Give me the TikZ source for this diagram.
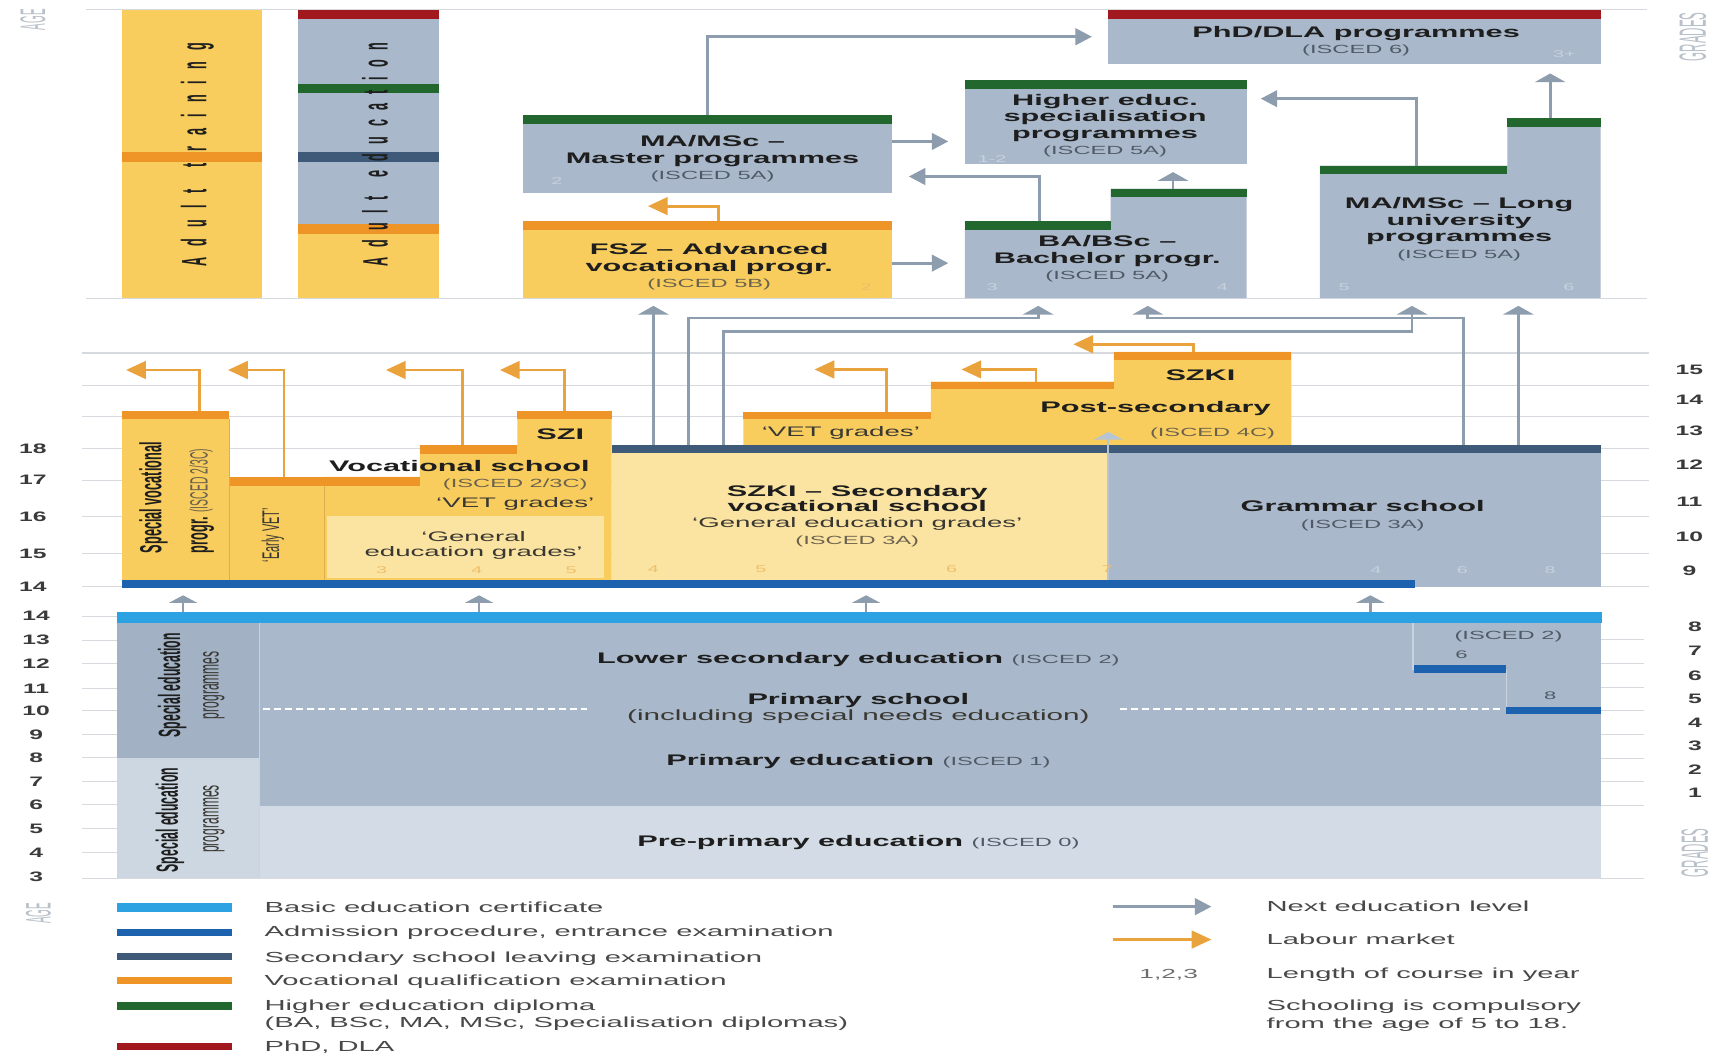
\documentclass[tikz,border=0pt]{standalone}
\usepackage{fontspec}
\setmainfont{Liberation Sans}
\usetikzlibrary{arrows.meta}
\definecolor{ylw}{HTML}{F8CD5E}
\definecolor{ylwlt}{HTML}{FBE4A2}
\definecolor{org}{HTML}{EF9427}
\definecolor{gry}{HTML}{A9B8CA}
\definecolor{grylt}{HTML}{D3DCE6}
\definecolor{gryse}{HTML}{A2B1C4}
\definecolor{gryse2}{HTML}{CDD7E2}
\definecolor{grn}{HTML}{22682E}
\definecolor{rd}{HTML}{A2181F}
\definecolor{slate}{HTML}{3F5A78}
\definecolor{adm}{HTML}{1D62AE}
\definecolor{basic}{HTML}{2CA2E2}
\definecolor{arw}{HTML}{8D9DAE}
\definecolor{arwlt}{HTML}{B7C4D3}
\definecolor{oarw}{HTML}{E9A23C}
\definecolor{grid}{HTML}{D6DADF}
\definecolor{txt}{HTML}{1E1E1E}
\definecolor{isc}{HTML}{505A66}
\definecolor{iscy}{HTML}{6B624E}
\definecolor{qtc}{HTML}{3A3832}
\definecolor{faint}{HTML}{C9D2DD}
\definecolor{fainty}{HTML}{EDBF6A}
\definecolor{numc}{HTML}{3A3A3A}
\definecolor{legc}{HTML}{484848}
\definecolor{axl}{HTML}{B8C0C9}
\definecolor{sepc}{HTML}{DDAE4E}
\definecolor{vline}{HTML}{C9D3DF}
\newcommand{\iscf}{\fontsize{10.8}{11}\selectfont\mdseries\color{isc}}
\begin{document}
\begin{tikzpicture}[x=1pt,y=-1pt,
 sx/.style={xscale=2.0, transform shape, inner sep=0pt, anchor=base},
 ttl/.style={sx, font=\fontsize{14}{15}\selectfont\bfseries, text=txt},
 isct/.style={sx, font=\fontsize{10.8}{11}\selectfont, text=isc},
 iscyl/.style={sx, font=\fontsize{10.8}{11}\selectfont, text=iscy},
 qt/.style={sx, font=\fontsize{12.6}{13}\selectfont, text=qtc},
 sml/.style={sx, font=\fontsize{9}{9}\selectfont, text=faint},
 num/.style={xscale=1.8, transform shape, inner sep=0pt, anchor=center, font=\fontsize{12.5}{12}\selectfont\bfseries, text=numc},
 leg/.style={sx, anchor=base west, font=\fontsize{13.3}{14}\selectfont, text=legc},
 vtxt/.style={xscale=#1, rotate=90, transform shape, inner sep=0pt, anchor=center},
 gridl/.style={draw=grid, line width=1pt},
 garr/.style={draw=arw, line width=2.6pt},
 gh/.style={garr, -{Triangle[length=15pt,width=15pt]}},
 gv/.style={garr, -{Triangle[length=8pt,width=28pt]}},
 oh/.style={draw=oarw, line width=2.6pt, -{Triangle[length=18pt,width=16pt]}},
]
\fill[white] (0,0) rectangle (1568,962);
\useasboundingbox (0,0) rectangle (1568,962);

% ---------- grid lines
\draw[gridl] (78,9) -- (1502,9);
\draw[gridl] (78,272) -- (1502,272);
\foreach \yy in {322,352,380,409,438,471,505,535} {\draw[gridl] (75,\yy) -- (1504,\yy);}
\foreach \yy in {562,584,605,628,648,670,691,713,734,756,778} {\draw[gridl] (75,\yy) -- (107,\yy);}
\foreach \yy in {583,605,627,648,670,692,713,735} {\draw[gridl] (1460,\yy) -- (1500,\yy);}
\draw[gridl] (75,801) -- (1500,801);

% ---------- top section boxes
\fill[ylw] (111,9) rectangle (239,272);
\fill[org] (111,139) rectangle (239,148);
\fill[gry] (272,9) rectangle (400,208);
\fill[ylw] (272,208) rectangle (400,272);
\fill[rd] (272,9) rectangle (400,17);
\fill[grn] (272,77) rectangle (400,85);
\fill[slate] (272,139) rectangle (400,148);
\fill[org] (272,204) rectangle (400,213);

\fill[gry] (1011,9) rectangle (1460,58);
\fill[rd] (1011,9) rectangle (1460,17);
\fill[gry] (477,105) rectangle (814,176);
\fill[grn] (477,105) rectangle (814,113);
\fill[gry] (880,73) rectangle (1137,150);
\fill[grn] (880,73) rectangle (1137,81);
\fill[ylw] (477,202) rectangle (814,272);
\fill[org] (477,202) rectangle (814,210);
\fill[gry] (880,202) -- (1013,202) -- (1013,172) -- (1137,172) -- (1137,272) -- (880,272) -- cycle;
\fill[grn] (880,202) rectangle (1013,210);
\fill[grn] (1013,172) rectangle (1137,180);
\fill[gry] (1204,151) -- (1375,151) -- (1375,108) -- (1460,108) -- (1460,272) -- (1204,272) -- cycle;
\fill[grn] (1204,151) rectangle (1375,159);
\fill[grn] (1375,108) rectangle (1460,116);

% ---------- middle section boxes
\fill[ylw] (111,375) rectangle (209,529);
\fill[org] (111,375) rectangle (209,382);
\fill[ylw] (210,435) rectangle (296,529);
\fill[ylw] (296,435) -- (383,435) -- (383,406) -- (472,406) -- (472,375) -- (558,375) -- (558,529) -- (296,529) -- cycle;
\fill[ylwlt] (298,471) rectangle (551,527);
\fill[org] (210,435) rectangle (383,443);
\fill[org] (383,406) rectangle (472,414);
\fill[org] (472,375) rectangle (558,382);
\draw[sepc, line width=1pt] (209.5,382) -- (209.5,529);
\draw[sepc, line width=1pt] (296,443) -- (296,529);
\fill[ylwlt] (558,413) rectangle (1011,529);
\fill[ylw] (678,406) -- (678,376) -- (849,376) -- (849,348) -- (1016,348) -- (1016,321) -- (1178,321) -- (1178,406) -- cycle;
\fill[org] (678,376) rectangle (849,382);
\fill[org] (849,348) rectangle (1016,355);
\fill[org] (1016,321) rectangle (1178,328);
\fill[gry] (1011,413) rectangle (1460,535);
\fill[slate] (558,406) rectangle (1460,413);
\fill[adm] (111,529) rectangle (1291,536);

% ---------- bottom section boxes
\fill[gryse] (107,568) rectangle (237,691);
\fill[gryse2] (107,691) rectangle (237,801);
\fill[gry] (237,568) rectangle (1460,735);
\fill[grylt] (237,735) rectangle (1460,801);
\fill[basic] (107,558) rectangle (1461,568);
\draw[vline, line width=1.2pt] (237,568) -- (237,801);
\draw[white, line width=1.5pt, dash pattern=on 6pt off 4pt] (240,647) -- (535,647);
\draw[white, line width=1.5pt, dash pattern=on 6pt off 4pt] (1022,647) -- (1372,647);
\draw[vline, line width=1.5pt] (1289,568) -- (1289,611);
\draw[vline, line width=1.5pt] (1374,611) -- (1374,648);
\fill[adm] (1290,607) rectangle (1374,614);
\fill[adm] (1374,645) rectangle (1460,651);

% ---------- connector end points
\coordinate (maT) at (645,105);
\coordinate (phdL) at (996,33.5);
\coordinate (maR) at (814,129);
\coordinate (hiL) at (865,129);
\coordinate (baLT) at (948,202);
\coordinate (maRi) at (829,161);
\coordinate (fszR) at (814,240);
\coordinate (baL) at (865,240);
\coordinate (baRT) at (1070,172);
\coordinate (hiB) at (1070,157);
\coordinate (mlLT) at (1292,151);
\coordinate (hiR) at (1150,90);
\coordinate (mlRT) at (1414,108);
\coordinate (phdB) at (1414,67);
\coordinate (fszT) at (655,202);
\coordinate (fszO) at (591,188);
\coordinate (s1) at (596,406);   \coordinate (fszB) at (596,279);
\coordinate (s2) at (628,406);   \coordinate (k2) at (947,290); \coordinate (baB1) at (947,279);
\coordinate (s3) at (660,406);   \coordinate (k3) at (1288,302); \coordinate (mlB1) at (1288,279);
\coordinate (s4) at (1335,406);  \coordinate (k4) at (1047,290); \coordinate (baB2) at (1047,279);
\coordinate (s5) at (1385,406);  \coordinate (mlB2) at (1385,279);
\coordinate (s6) at (1011,529);  \coordinate (psB) at (1011,394);
\coordinate (b1) at (167,558); \coordinate (c1) at (167,543);
\coordinate (b2) at (437,558); \coordinate (c2) at (437,543);
\coordinate (b3) at (790,558); \coordinate (c3) at (790,543);
\coordinate (b4) at (1250,558); \coordinate (c4) at (1250,543);
\coordinate (o1a) at (182,375); \coordinate (o1b) at (115,337.5);
\coordinate (o2a) at (259,435); \coordinate (o2b) at (208,337.5);
\coordinate (o3a) at (422,406); \coordinate (o3b) at (352,337.5);
\coordinate (o4a) at (515,375); \coordinate (o4b) at (456,337.5);
\coordinate (o5a) at (809,376); \coordinate (o5b) at (743,337);
\coordinate (o6a) at (945,348); \coordinate (o6b) at (877,337);
\coordinate (o7a) at (1089,321); \coordinate (o7b) at (979,314);

% ---------- connectors
\draw[gh] (maT) |- (phdL);
\draw[gh] (maR) -- (hiL);
\draw[gh] (baLT) |- (maRi);
\draw[gh] (fszR) -- (baL);
\draw[gv] (baRT) -- (hiB);
\draw[gh] (mlLT) |- (hiR);
\draw[gv] (mlRT) -- (phdB);
\draw[oh] (fszT) |- (fszO);
\draw[gv] (s1) -- (fszB);
\draw[gv] (s2) |- (k2) -- (baB1);
\draw[gv] (s3) |- (k3) -- (mlB1);
\draw[gv] (s4) |- (k4) -- (baB2);
\draw[gv] (s5) -- (mlB2);
\draw[draw=arwlt, line width=2pt, -{Triangle[length=7pt,width=26pt]}] (s6) -- (psB);
\foreach \i in {1,2,3,4} {\draw[draw=arw, line width=2.4pt, -{Triangle[length=7pt,width=26pt]}] (b\i) -- (c\i);}
\foreach \i in {1,...,7} {\draw[oh] (o\i a) |- (o\i b);}

% ---------- top texts
\node[vtxt=2.8, font=\fontsize{11.5}{12}\selectfont\bfseries, text=txt] (adtr) at (180,141)
  {\hbox to 204pt{A\hfil d\hfil u\hfil l\hfil t\hfil\hfil t\hfil r\hfil a\hfil i\hfil n\hfil i\hfil n\hfil g}};
\node[vtxt=2.8, font=\fontsize{11.5}{12}\selectfont\bfseries, text=txt] (aded) at (342,141)
  {\hbox to 204pt{A\hfil d\hfil u\hfil l\hfil t\hfil\hfil e\hfil d\hfil u\hfil c\hfil a\hfil t\hfil i\hfil o\hfil n}};
\node[ttl] (phd1) at (1237,34.5) {PhD/DLA programmes};
\node[isct] (phd2) at (1237,49) {(ISCED 6)};
\node[sml] (phd3) at (1427,52.3) {3+};
\node[ttl] (ma1) at (650,134) {MA/MSc --};
\node[ttl] (ma2) at (650,149) {Master programmes};
\node[isct] (ma3) at (650,164) {(ISCED 5A)};
\node[sml] (ma4) at (508,168.3) {2};
\node[ttl] (hi1) at (1008,96) {Higher educ.};
\node[ttl] (hi2) at (1008,111) {specialisation};
\node[ttl] (hi3) at (1008,126) {programmes};
\node[isct] (hi4) at (1008,141) {(ISCED 5A)};
\node[sml] (hi5) at (905,148.3) {1-2};
\node[ttl] (fsz1) at (647,232) {FSZ -- Advanced};
\node[ttl] (fsz2) at (647,248) {vocational progr.};
\node[iscyl] (fsz3) at (647,262) {(ISCED 5B)};
\node[sml, text=fainty] (fsz4) at (790,265.3) {2};
\node[ttl] (ba1) at (1010,225) {BA/BSc --};
\node[ttl] (ba2) at (1010,240) {Bachelor progr.};
\node[isct] (ba3) at (1010,255) {(ISCED 5A)};
\node[sml] (ba4) at (905,265.3) {3};
\node[sml] (ba5) at (1115,265.3) {4};
\node[ttl] (ml1) at (1331,190) {MA/MSc -- Long};
\node[ttl] (ml2) at (1331,206) {university};
\node[ttl] (ml3) at (1331,220) {programmes};
\node[isct] (ml4) at (1331,236) {(ISCED 5A)};
\node[sml] (ml5) at (1226,265) {5};
\node[sml] (ml6) at (1431,265) {6};

% ---------- middle texts
\node[vtxt=2.4, font=\fontsize{11.6}{12}\selectfont\bfseries, text=txt] (sv1) at (140,454) {Special vocational};
\node[vtxt=2.4, font=\fontsize{11.6}{12}\selectfont\bfseries, text=txt] (sv2) at (184,457) {progr. {\fontsize{9.5}{10}\selectfont\mdseries\color{iscy}(ISCED 2/3C)}};
\node[vtxt=2.2, font=\fontsize{10}{10}\selectfont, text=qtc] (ev) at (249,488) {`Early VET'};
\node[ttl] (vs1) at (419,430) {Vocational school};
\node[iscyl] (vs2) at (470,445) {(ISCED 2/3C)};
\node[qt] (vs3) at (470,462.5) {`VET grades'};
\node[qt] (vs4) at (432,493.5) {`General};
\node[qt] (vs5) at (432,507.5) {education grades'};
\node[sml, text=fainty] (vs6) at (348,523.3) {3};
\node[sml, text=fainty] (vs7) at (435,523.3) {4};
\node[sml, text=fainty] (vs8) at (521,523.3) {5};
\node[ttl] (szi) at (511,401) {SZI};
\node[ttl] (sk1) at (782,453) {SZKI -- Secondary};
\node[ttl] (sk2) at (782,467) {vocational school};
\node[qt] (sk3) at (782,481.5) {`General education grades'};
\node[iscyl] (sk4) at (782,497) {(ISCED 3A)};
\node[sml, text=fainty] (sk5) at (596,522.3) {4};
\node[sml, text=fainty] (sk6) at (694,522.3) {5};
\node[sml, text=fainty] (sk7) at (868,522.3) {6};
\node[sml, text=fainty] (sk8) at (1010,522.3) {7};
\node[qt] (ps1) at (767,398.5) {`VET grades'};
\node[ttl] (ps2) at (1095,347) {SZKI};
\node[ttl] (ps3) at (1054,376) {Post-secondary};
\node[iscyl] (ps4) at (1106,398) {(ISCED 4C)};
\node[ttl] (gs1) at (1243,467) {Grammar school};
\node[isct] (gs2) at (1243,482) {(ISCED 3A)};
\node[sml] (gs3) at (1255,523.3) {4};
\node[sml] (gs4) at (1334,523.3) {6};
\node[sml] (gs5) at (1414,523.3) {8};

% ---------- bottom texts
\node[vtxt=2.5, font=\fontsize{11.2}{12}\selectfont\bfseries, text=txt] (se1a) at (157,625) {Special education};
\node[vtxt=2.4, font=\fontsize{11}{12}\selectfont, text=qtc] (se1b) at (195,625) {programmes};
\node[vtxt=2.5, font=\fontsize{11.2}{12}\selectfont\bfseries, text=txt] (se2a) at (155,748) {Special education};
\node[vtxt=2.4, font=\fontsize{11}{12}\selectfont, text=qtc] (se2b) at (195,747) {programmes};
\node[sx, font=\fontsize{14}{15}\selectfont, text=txt] (lo1) at (783,605) {{\bfseries Lower secondary education} {\iscf (ISCED 2)}};
\node[ttl] (pr1) at (783,643) {Primary school};
\node[sx, font=\fontsize{13.5}{14}\selectfont, text=qtc] (pr2) at (783,657) {(including special needs education)};
\node[sx, font=\fontsize{14}{15}\selectfont, text=txt] (pe1) at (783,698) {{\bfseries Primary education} {\iscf (ISCED 1)}};
\node[sx, font=\fontsize{14}{15}\selectfont, text=txt] (pp1) at (783,772) {{\bfseries Pre-primary education} {\iscf (ISCED 0)}};
\node[isct] (is2) at (1376,583) {(ISCED 2)};
\node[sx, font=\fontsize{10}{10}\selectfont, text=isc] (six) at (1333,600.6) {6};
\node[sx, font=\fontsize{10}{10}\selectfont, text=isc] (eight) at (1414,637.6) {8};

% ---------- ages and grades
\foreach \a/\yy in {18/409,17/438,16/471,15/505,14/535} {\node[num] (agem\a) at (30,\yy) {\a};}
\foreach \a/\yy in {14/562,13/584,12/605,11/628,10/648,9/670,8/691,7/713,6/734,5/756,4/778,3/800} {\node[num] (ageb\a) at (33,\yy) {\a};}
\foreach \a/\yy in {15/337,14/365,13/393,12/424,11/458,10/490,9/521} {\node[num] (grm\a) at (1541,\yy) {\a};}
\foreach \a/\yy in {8/572,7/594,6/616,5/637,4/659,3/680,2/702,1/723} {\node[num] (grb\a) at (1546,\yy) {\a};}
\node[vtxt=3.6, font=\fontsize{9}{9}\selectfont, text=axl] (ageT) at (30,18) {AGE};
\node[vtxt=3.6, font=\fontsize{9}{9}\selectfont, text=axl] (ageB) at (35,833) {AGE};
\node[vtxt=3.3, font=\fontsize{10.5}{10}\selectfont, text=axl] (grT) at (1544,33.5) {GRADES};
\node[vtxt=3.3, font=\fontsize{10.5}{10}\selectfont, text=axl] (grB) at (1546,778) {GRADES};

% ---------- legend
\fill[basic] (107,824) rectangle (212,832);
\fill[adm] (107,847) rectangle (212,854);
\fill[slate] (107,869) rectangle (212,876);
\fill[org] (107,891) rectangle (212,898);
\fill[grn] (107,914) rectangle (212,921);
\fill[rd] (107,951) rectangle (212,958);
\node[leg] (l1) at (241,832.5) {Basic education certificate};
\node[leg] (l2) at (241,854.5) {Admission procedure, entrance examination};
\node[leg] (l3) at (241,877.5) {Secondary school leaving examination};
\node[leg] (l4) at (241,898.5) {Vocational qualification examination};
\node[leg] (l5) at (241,921.5) {Higher education diploma};
\node[leg] (l6) at (241,937.5) {(BA, BSc, MA, MSc, Specialisation diplomas)};
\node[leg] (l7) at (241,959.5) {PhD, DLA};
\coordinate (lg1a) at (1015,827); \coordinate (lg1b) at (1105,827);
\coordinate (lg2a) at (1015,857); \coordinate (lg2b) at (1105,857);
\draw[gh] (lg1a) -- (lg1b);
\draw[oh] (lg2a) -- (lg2b);
\node[sx, font=\fontsize{12}{12}\selectfont, text=legc!80] (l123) at (1066,892.3) {1,2,3};
\node[leg] (r1) at (1155,831.5) {Next education level};
\node[leg] (r2) at (1155,861.5) {Labour market};
\node[leg] (r3) at (1155,892.5) {Length of course in year};
\node[leg] (r4) at (1155,921.5) {Schooling is compulsory};
\node[leg] (r5) at (1155,938.5) {from the age of 5 to 18.};
\end{tikzpicture}
\end{document}
